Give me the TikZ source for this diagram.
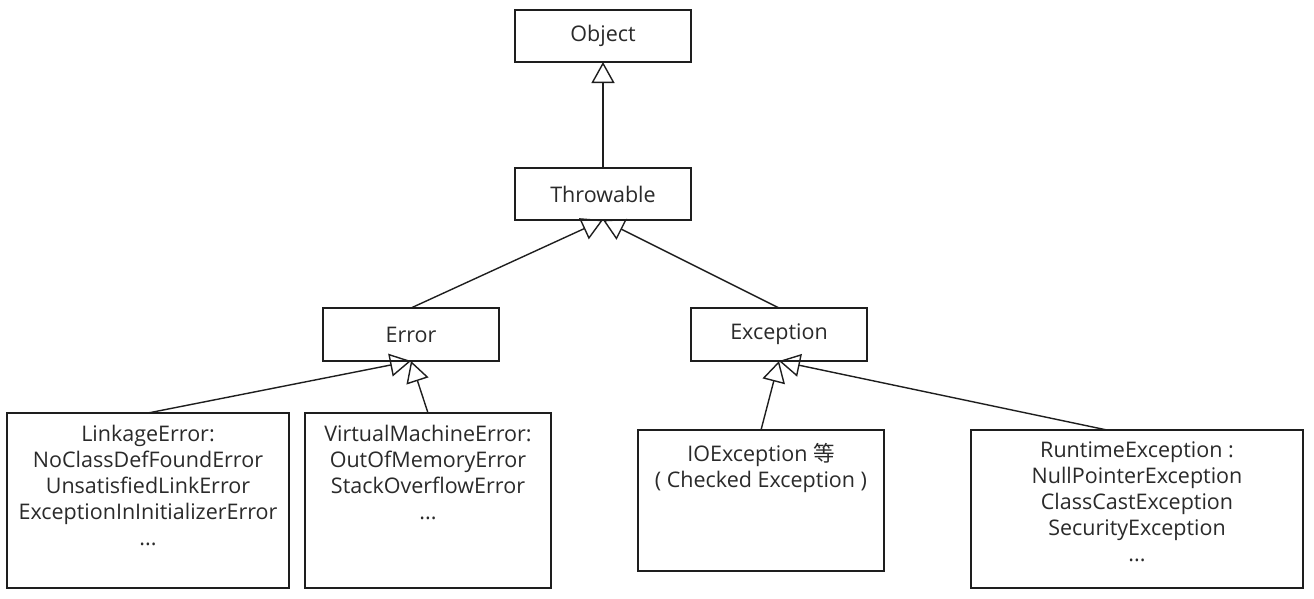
\documentclass[tikz,border=0pt]{standalone}
\usepackage{fontspec}
\setmainfont{Open Sans}
\newfontfamily\cjk{Noto Sans CJK SC}
\usetikzlibrary{arrows.meta}
\definecolor{linec}{HTML}{1E1E1E}
\definecolor{textc}{HTML}{2A2A2A}
\begin{document}
\begin{tikzpicture}[x=1pt,y=-1pt,
  box/.style={draw=linec, line width=1.4pt, inner sep=0pt, outer sep=0pt},
  txt/.style={font=\fontsize{21.5}{26}\selectfont, align=center, text=textc, inner sep=0pt},
  inh/.style={draw=linec, line width=1.4pt, -{Triangle[open, length=21pt, width=23pt]}}]
\useasboundingbox[fill=white] (0,0) rectangle (1314,598);
% top level boxes
\node[box, txt, minimum width=176pt, minimum height=52pt] (obj) at (603,36) {Object};
\node[box, txt, minimum width=176pt, minimum height=52pt] (thr) at (603,194) {Throwable};
\node[box, txt, minimum width=176pt, minimum height=53pt] (err) at (411,334.5) {Error};
\node[box, txt, minimum width=176pt, minimum height=53pt] (exc) at (779,334.5) {Exception};
% bottom boxes
\node[box, anchor=north west, minimum width=282pt, minimum height=175pt] (link) at (7,413) {};
\node[box, anchor=north west, minimum width=246pt, minimum height=175pt] (vme) at (305,413) {};
\node[box, anchor=north west, minimum width=246pt, minimum height=141pt] (io) at (638,430) {};
\node[box, anchor=north west, minimum width=332pt, minimum height=158pt] (rt) at (971,430) {};
\node[txt, anchor=north] (linkT) at ([yshift=-12pt]link.north) {LinkageError:\\NoClassDefFoundError\\UnsatisfiedLinkError\\ExceptionInInitializerError\\...};
\node[txt, anchor=north] (vmeT) at ([yshift=-12pt]vme.north) {VirtualMachineError:\\OutOfMemoryError\\StackOverflowError\\...};
\node[txt, anchor=north] (ioT) at ([yshift=-13pt]io.north) {IOException {\cjk 等}\\( Checked Exception )};
\node[txt, anchor=north] (rtT) at ([yshift=-12pt]rt.north) {RuntimeException :\\NullPointerException\\ClassCastException\\SecurityException\\...};
% connectors
\draw[inh] (thr.north) -- (obj.south);
\draw[inh] (err.north) -- (thr.south);
\draw[inh] (exc.north) -- (thr.south);
\draw[inh] (link.north) -- (err.south);
\draw[inh] (vme.north) -- (err.south);
\draw[inh] (io.north) -- (exc.south);
\draw[inh] ([xshift=-30pt]rt.north) -- (exc.south);
\end{tikzpicture}
\end{document}
